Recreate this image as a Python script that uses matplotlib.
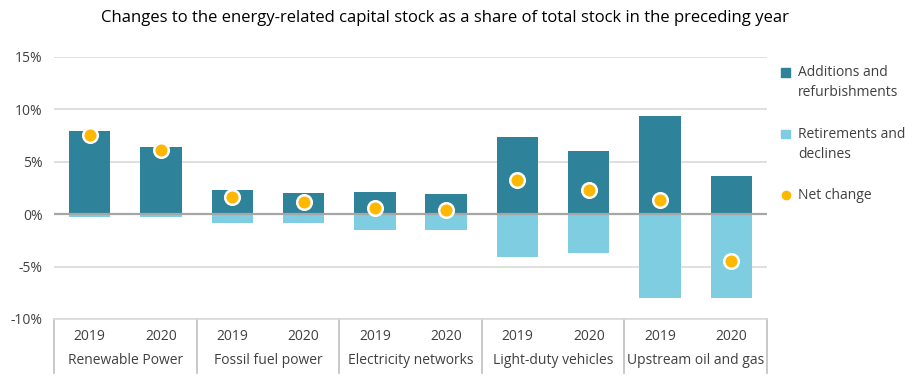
import matplotlib.pyplot as plt
import matplotlib.transforms as mtransforms
from matplotlib.lines import Line2D
from matplotlib.patches import Rectangle
import numpy as np

plt.rcParams['font.family'] = ['Open Sans', 'DejaVu Sans']

groups = ['Renewable Power', 'Fossil fuel power', 'Electricity networks',
          'Light-duty vehicles', 'Upstream oil and gas']
years = ['2019', '2020']

additions = [7.9, 6.4, 2.3, 2.0, 2.1, 1.9, 7.4, 6.0, 9.4, 3.6]
retirements = [-0.3, -0.3, -0.8, -0.8, -1.5, -1.5, -4.1, -3.7, -8.0, -8.0]
net_change = [7.6, 6.1, 1.6, 1.2, 0.6, 0.4, 3.3, 2.3, 1.4, -4.5]

legend_labels = ['Additions and\nrefurbishments', 'Retirements and\ndeclines', 'Net change']

dark = '#2E8299'
light = '#7FCDE0'
gold = '#FFB800'
grid_c = '#D9D9D9'
text_c = '#404040'

fig = plt.figure(figsize=(9.17, 3.81), dpi=100)
ax = fig.add_axes([54 / 917, 1 - 319 / 381, (767 - 54) / 917, (319 - 57) / 381])

x = np.arange(len(additions))
w = 0.58
ax.bar(x, additions, width=w, color=dark, zorder=3)
ax.bar(x, retirements, width=w, color=light, zorder=3)
ax.scatter(x, net_change, s=110, color=gold, edgecolor='white', linewidth=1.8, zorder=5)

ax.set_xlim(-0.5, len(additions) - 0.5)
ax.set_ylim(-10, 15)
ax.set_yticks([-10, -5, 0, 5, 10, 15])
ax.set_yticklabels(['-10%', '-5%', '0%', '5%', '10%', '15%'], fontsize=10, color=text_c)
ax.yaxis.grid(True, color=grid_c, linewidth=1.2, zorder=0)
ax.axhline(0, color='#A6A6A6', linewidth=1.6, zorder=4)
for s in ['top', 'right', 'left']:
    ax.spines[s].set_visible(False)
ax.spines['bottom'].set_color(grid_c)
ax.spines['bottom'].set_linewidth(1.2)
ax.tick_params(axis='y', length=0, pad=8)
ax.set_xticks([])

# two-level category axis
trans = mtransforms.blended_transform_factory(ax.transData, ax.transAxes)
for i in range(len(additions)):
    ax.text(i, -0.065, years[i % 2], transform=trans, ha='center', va='center',
            fontsize=10, color=text_c)
for g, name in enumerate(groups):
    ax.text(2 * g + 0.5, -0.16, name, transform=trans, ha='center', va='center',
            fontsize=10, color=text_c)
for b in range(len(groups) + 1):
    ax.add_line(Line2D([2 * b - 0.5, 2 * b - 0.5], [0, -0.205], transform=trans,
                       color='#BFBFBF', linewidth=1.2, clip_on=False))

fig.text(0.485, 0.952, 'Changes to the energy-related capital stock as a share of total stock in the preceding year',
         ha='center', va='center', fontsize=12, color='black')

# legend, handle aligned with first text line
W, H = 917, 381
rows = [72, 134, 195]
for k, (lab, yy) in enumerate(zip(legend_labels, rows)):
    fy = 1 - yy / H
    if k < 2:
        fig.patches.append(Rectangle(((785 - 4) / W, fy - 4.5 / H), 9 / W, 9 / H,
                                     color=[dark, light][k], transform=fig.transFigure))
    else:
        fig.add_artist(Line2D([786 / W], [fy], marker='o', color=gold, markersize=6,
                              linestyle='none', transform=fig.transFigure))
    fig.text(798 / W, fy + 7 / H, lab, ha='left', va='top', fontsize=10,
             color=text_c, linespacing=1.45)

fig.savefig('out.png', dpi=100)
